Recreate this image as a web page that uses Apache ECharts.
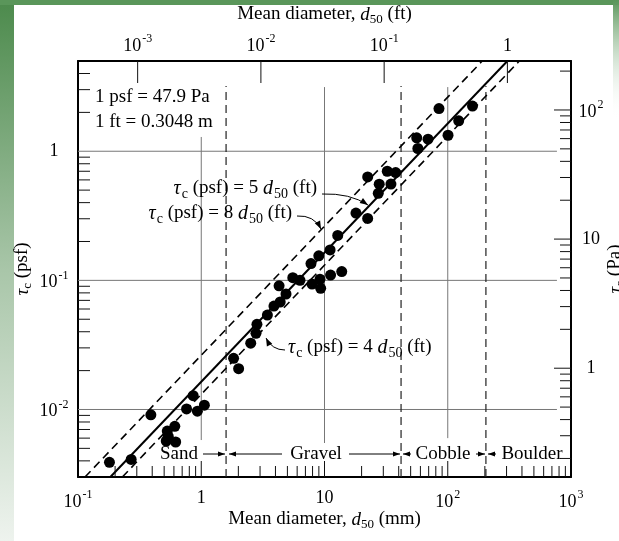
<!DOCTYPE html>
<html>
<head>
<meta charset="utf-8">
<script src="https://cdn.jsdelivr.net/npm/echarts@6/dist/echarts.min.js"></script>
<style>
html, body { margin: 0; padding: 0; background: #fff; }
#main { width: 619px; height: 541px; }
</style>
</head>
<body>
<div id="main"></div>
<script>
var chart = echarts.init(document.getElementById('main'));

// axis ranges (mm / psf), unit factors for the second axes
var xMin = 0.1, xMax = 1000, yMin = 0.003, yMax = 5;
var FT_TO_MM = 304.8, PSF_TO_PA = 47.9;

// measured points: d50 (mm) and tau_c (psf)
var d50mm = [0.18, 0.27, 0.39, 0.53, 0.61, 0.54, 0.52, 0.62, 0.76, 0.86, 0.93, 1.06,
  1.83, 2.01, 2.52, 2.78, 2.83, 3.44, 3.89, 4.37, 4.87, 4.28, 5.53, 6.33, 7.92, 9.19,
  9.31, 11.2, 13.8, 7.77, 8.99, 11.1, 12.8, 18.0, 22.4, 22.4, 27.8, 27.3, 32.3, 37.8,
  34.6, 56.0, 57.2, 69.2, 84.9, 100.5, 122.7, 158.8];
var tauPsf = [0.0039, 0.0041, 0.0091, 0.0068, 0.0074, 0.0062, 0.0057, 0.0056, 0.0101, 0.0128, 0.0097, 0.0108,
  0.0249, 0.0207, 0.0326, 0.0389, 0.0457, 0.0539, 0.0632, 0.068, 0.0784, 0.0908, 0.105, 0.100, 0.0937, 0.102,
  0.0868, 0.110, 0.117, 0.135, 0.155, 0.172, 0.223, 0.332, 0.302, 0.632, 0.556, 0.472, 0.700, 0.684,
  0.557, 1.27, 1.05, 1.24, 2.14, 1.33, 1.72, 2.24];

// tau = 8, 5, 4 d50(ft): where each line meets the bottom and top of the frame
var line8 = [[0.114, 0.003], [190.5, 5]];
var line5 = [[0.183, 0.003], [304.8, 5]];
var line4 = [[0.229, 0.003], [381, 5]];

// grid segments [x, yLow, yHigh] and horizontal lines
var gridVert = [[1, 0.0058, 1.29], [10, 0.0055, 3.14], [100, 0.006, 3.14]];
var gridHorz = [0.01, 0.1, 1];
var gridHorzEnd = 769;
// sand / gravel / cobble / boulder limits (mm)
var classBounds = [1.59, 41.8, 204];
var classTop = 3.2;

// ticks
var minorMult = [2, 3, 4, 5, 6, 7, 8, 9];
var mmDecades = [0.1, 1, 10, 100];
var mmMajor = [1, 10, 100];
var psfDecades = [0.001, 0.01, 0.1, 1];
var paDecades = [0.1, 1, 10, 100];
var paMajor = [1, 10, 100];
var ftMajor = [0.001, 0.01, 0.1, 1];

function minors(decades, lo, hi) {
  var out = [];
  decades.forEach(function (d) {
    minorMult.forEach(function (m) {
      var v = d * m;
      if (v > lo && v < hi) out.push(v);
    });
  });
  return out;
}

var serif = 'Liberation Serif';

function powLabel(v) {
  var lg = Math.log10(v);
  var e = Math.round(lg);
  if (Math.abs(lg - e) > 1e-6) return '';
  if (e === 0) return '{b|1}';
  if (e === 1) return '{b|10}';
  return '{b|10}{s|' + e + '}';
}
var supRich = {
  b: { fontFamily: serif, fontSize: 18, color: '#000', verticalAlign: 'bottom' },
  s: { fontFamily: serif, fontSize: 12, color: '#000', verticalAlign: 'bottom', padding: [0, 0, 10, 1] }
};
var nameRich = {
  t: { fontFamily: serif, fontSize: 19, color: '#000', verticalAlign: 'top' },
  i: { fontFamily: serif, fontSize: 19, fontStyle: 'italic', color: '#000', verticalAlign: 'top' },
  sub: { fontFamily: serif, fontSize: 13, color: '#000', verticalAlign: 'top', padding: [8, 0, 0, 0] }
};

function segSeries(data, style) {
  return {
    type: 'custom', silent: true, clip: false, z: 1,
    data: data,
    renderItem: function (params, api) {
      var a = api.coord([api.value(0), api.value(1)]);
      var b = api.coord([api.value(2), api.value(3)]);
      return { type: 'line', shape: { x1: a[0], y1: a[1], x2: b[0], y2: b[1] }, style: Object.assign({}, style) };
    }
  };
}

function tickSeries(data, xi, yi) {
  return {
    type: 'custom', silent: true, clip: false, z: 5,
    xAxisIndex: xi, yAxisIndex: yi,
    data: data,
    renderItem: function (params, api) {
      var p = api.coord([api.value(0), api.value(1)]);
      return { type: 'line', shape: { x1: p[0], y1: p[1], x2: p[0] + api.value(2), y2: p[1] + api.value(3) },
        style: { stroke: '#111', lineWidth: 1 } };
    }
  };
}

var bottomTicks = minors(mmDecades, xMin, xMax).map(function (v) { return [v, yMin, 0, -11]; })
  .concat(mmMajor.map(function (v) { return [v, yMin, 0, -16]; }));
var leftTicks = minors(psfDecades, yMin, yMax).map(function (v) { return [xMin, v, 12, 0]; });
var rightTicks = minors(paDecades, yMin * PSF_TO_PA, yMax * PSF_TO_PA).map(function (v) { return [xMax, v, -11, 0]; })
  .concat(paMajor.map(function (v) { return [xMax, v, -17, 0]; }));
var topTicks = ftMajor.map(function (v) { return [v, yMax, 0, 22]; });

var vertSegs = gridVert.map(function (g) { return [g[0], g[1], g[0], g[2]]; });
var horzSegs = gridHorz.map(function (y) { return [xMin, y, gridHorzEnd, y]; });
var classSegs = classBounds.map(function (x) { return [x, yMin, x, classTop]; });

var points = d50mm.map(function (d, i) { return [d, tauPsf[i]]; });

function axisBase(extra) {
  var a = {
    type: 'log', logBase: 10,
    nameLocation: 'middle',
    nameMoveOverlap: false,
    nameTextStyle: { rich: nameRich },
    axisLine: { show: true, onZero: false, lineStyle: { color: '#000', width: 2 } },
    axisTick: { show: false },
    splitLine: { show: false },
    axisLabel: { formatter: powLabel, rich: supRich, color: '#000', fontFamily: serif, fontSize: 18 }
  };
  for (var k in extra) a[k] = extra[k];
  return a;
}

// annotation helpers
var annoRich = {
  t: { fontFamily: serif, fontSize: 19, color: '#000', verticalAlign: 'top' },
  i: { fontFamily: serif, fontSize: 20, fontStyle: 'italic', color: '#000', verticalAlign: 'top' },
  sub: { fontFamily: serif, fontSize: 14, color: '#000', verticalAlign: 'top', padding: [8, 0, 0, 1] }
};
function tauText(k) {
  return '{i|τ}{sub|c}{t| (psf) = ' + k + ' }{i|d}{sub|50}{t| (ft)}';
}
function txt(s, x, y, align, rich) {
  return { type: 'text', silent: true, z: 10,
    style: { text: s, x: x, y: y, align: align, verticalAlign: 'middle', rich: rich,
      fontFamily: serif, fontSize: 19, fill: '#000' } };
}
function head(tx, ty, fx, fy, len, half) {
  var ang = Math.atan2(ty - fy, tx - fx);
  var bx = tx - len * Math.cos(ang), by = ty - len * Math.sin(ang);
  return { type: 'polygon', silent: true, z: 10,
    shape: { points: [[tx, ty], [bx - half * Math.sin(ang), by + half * Math.cos(ang)], [bx + half * Math.sin(ang), by - half * Math.cos(ang)]] },
    style: { fill: '#000' } };
}
function hArrow(x1, x2, y) {
  return [
    { type: 'line', silent: true, z: 10, shape: { x1: x1, y1: y, x2: x2, y2: y }, style: { stroke: '#000', lineWidth: 1 } },
    head(x2, y, x1, y, 7, 2.6)
  ];
}
function curveArrow(x1, y1, cx, cy, x2, y2) {
  return [
    { type: 'bezierCurve', silent: true, z: 10, shape: { x1: x1, y1: y1, cpx1: cx, cpy1: cy, x2: x2, y2: y2 },
      style: { stroke: '#000', lineWidth: 1, fill: null } },
    head(x2, y2, cx, cy, 8, 3)
  ];
}

var zoneY = 454;
var graphics = [
  { type: 'rect', silent: true, z: -10, shape: { x: 0, y: 0, width: 14, height: 541 },
    style: { fill: new echarts.graphic.LinearGradient(0, 0, 0, 1, [
      { offset: 0, color: '#4c8a4c' }, { offset: 0.5, color: '#a9c6a9' }, { offset: 1, color: '#eef3ee' }]) } },
  { type: 'rect', silent: true, z: -10, shape: { x: 0, y: 0, width: 619, height: 5 }, style: { fill: '#5a965a' } },
  { type: 'rect', silent: true, z: -10, shape: { x: 613, y: 0, width: 6, height: 120 },
    style: { fill: new echarts.graphic.LinearGradient(0, 0, 0, 1, [
      { offset: 0, color: '#5a965a' }, { offset: 1, color: 'rgba(255,255,255,0)' }]) } },
  txt('1 psf = 47.9 Pa', 95, 97, 'left'),
  txt('1 ft = 0.3048 m', 95, 122, 'left'),
  txt(tauText(5), 317, 190, 'right', annoRich),
  txt(tauText(8), 292, 215, 'right', annoRich),
  txt(tauText(4), 288, 349, 'left', annoRich),
  txt('Sand', 198, zoneY, 'right'),
  txt('Gravel', 316, zoneY, 'center'),
  txt('Cobble', 443, zoneY, 'center'),
  txt('Boulder', 532, zoneY, 'center')
]
  .concat(curveArrow(322, 194, 350, 193, 368, 205))
  .concat(curveArrow(297, 216, 314, 215, 321, 229))
  .concat(curveArrow(285, 350, 272, 350, 266, 338))
  .concat(hArrow(203, 225, zoneY))
  .concat(hArrow(282, 229, zoneY))
  .concat(hArrow(349, 400, zoneY))
  .concat(hArrow(411, 403, zoneY))
  .concat(hArrow(476, 485, zoneY))
  .concat(hArrow(496, 488, zoneY));

var option = {
  animation: false,
  backgroundColor: '#fff',
  grid: { left: 78, right: 48, top: 61, bottom: 64, containLabel: false, outerBoundsMode: 'none' },
  xAxis: [
    axisBase({ min: xMin, max: xMax, position: 'bottom', nameGap: 33,
      name: '{t|Mean diameter, }{i|d}{sub|50}{t| (mm)}' }),
    axisBase({ min: xMin / FT_TO_MM, max: xMax / FT_TO_MM, position: 'top', nameGap: 35,
      name: '{t|Mean diameter, }{i|d}{sub|50}{t| (ft)}' })
  ],
  yAxis: [
    axisBase({ min: yMin, max: yMax, position: 'left', nameGap: 44, nameRotate: 90,
      name: '{i|τ}{sub|c}{t| (psf)}' }),
    axisBase({ min: yMin * PSF_TO_PA, max: yMax * PSF_TO_PA, position: 'right', nameGap: 35, nameRotate: 90,
      name: '{i|τ}{sub|c}{t| (Pa)}' })
  ],
  series: [
    segSeries(horzSegs, { stroke: '#777', lineWidth: 1 }),
    segSeries(vertSegs, { stroke: '#777', lineWidth: 1 }),
    segSeries(classSegs, { stroke: '#222', lineWidth: 1.2, lineDash: [8, 5] }),
    { type: 'line', data: line8, showSymbol: false, silent: true, z: 3,
      lineStyle: { color: '#000', width: 1.6, type: [8, 5] } },
    { type: 'line', data: line5, showSymbol: false, silent: true, z: 3,
      lineStyle: { color: '#000', width: 2 } },
    { type: 'line', data: line4, showSymbol: false, silent: true, z: 3,
      lineStyle: { color: '#000', width: 1.6, type: [8, 5] } },
    { type: 'scatter', data: points, symbolSize: 11, silent: true, z: 4,
      itemStyle: { color: '#000', opacity: 1 } },
    tickSeries(bottomTicks, 0, 0),
    tickSeries(leftTicks, 0, 0),
    tickSeries(rightTicks, 0, 1),
    tickSeries(topTicks, 1, 0)
  ],
  graphic: graphics
};

// label alignment: left/right tick labels are centred on a column
option.yAxis[0].axisLabel.align = 'center';
option.yAxis[0].axisLabel.margin = 24;
option.yAxis[1].axisLabel.align = 'center';
option.yAxis[1].axisLabel.margin = 20;
option.xAxis[0].axisLabel.margin = 12;
option.xAxis[1].axisLabel.margin = 6;

chart.setOption(option);
</script>
</body>
</html>
